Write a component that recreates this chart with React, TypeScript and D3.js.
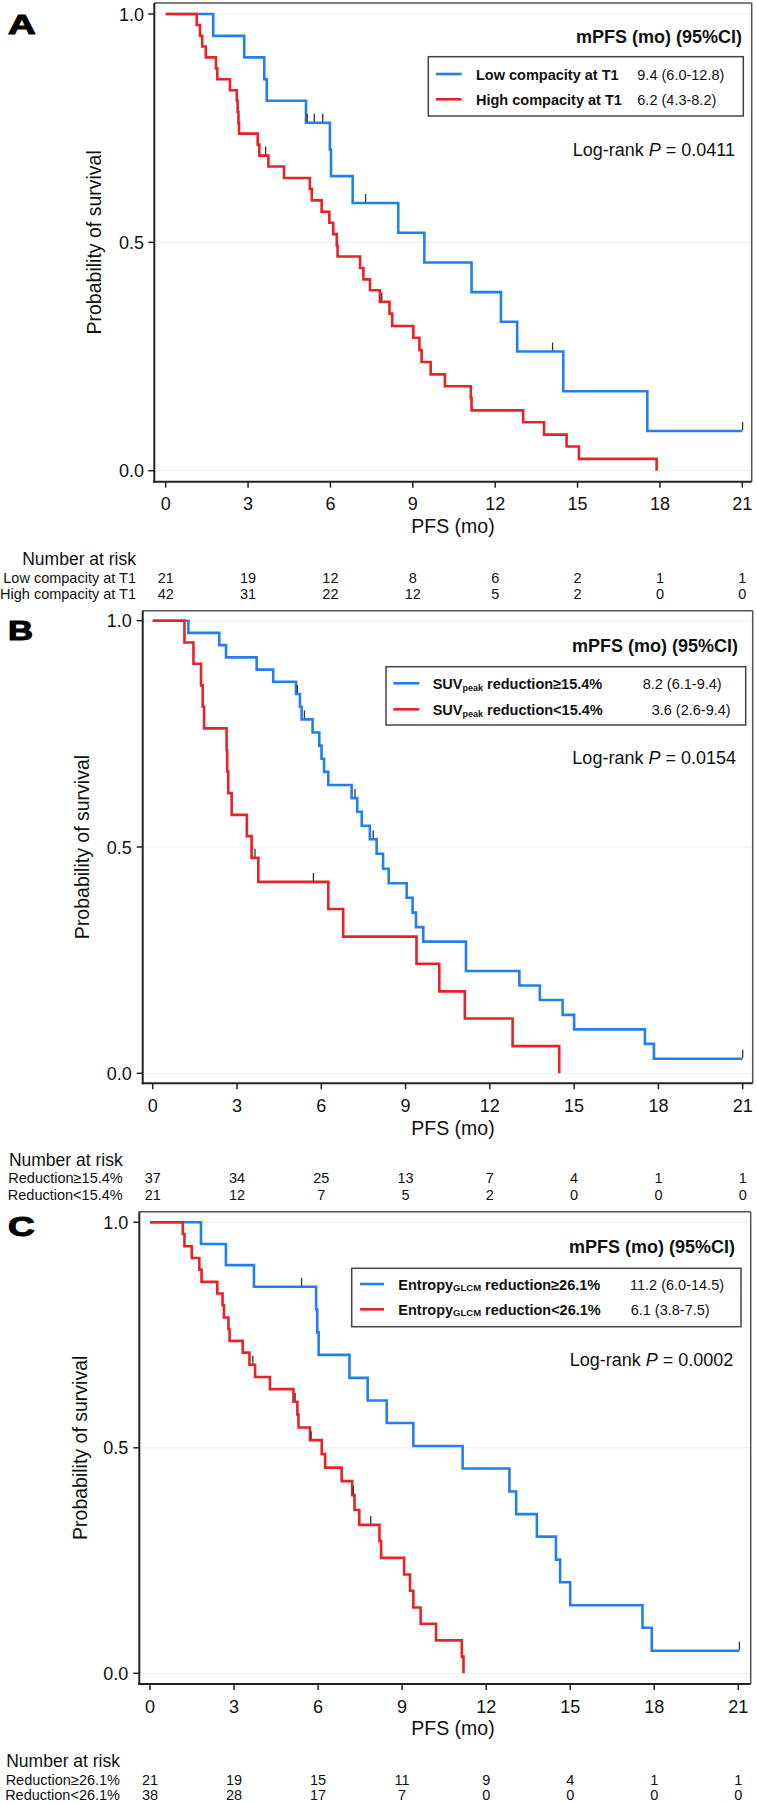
import React from "react";
import * as d3 from "d3";

const timeTicks = [0, 3, 6, 9, 12, 15, 18, 21];
const survTicks = [0, 0.5, 1];
const survTickLabels = ["0.0", "0.5", "1.0"];

// Panel A
const aLowT = [0, 1.73, 2.86, 3.59, 3.68, 5.11, 5.98, 6.02, 6.81, 8.47, 9.42, 11.14, 12.21, 12.8, 14.48, 17.54, 21.01];
const aLowS = [1, 0.952, 0.905, 0.857, 0.81, 0.762, 0.703, 0.645, 0.586, 0.521, 0.456, 0.391, 0.326, 0.261, 0.174, 0.087, 0.087];
const aLowCensor = [5.15, 5.41, 5.72, 7.28, 14.09, 21.01];
const aHighT = [0, 1.13, 1.25, 1.33, 1.46, 1.83, 1.88, 2.34, 2.59, 2.62, 2.65, 2.67, 3.35, 3.41, 3.74, 4.31, 5.25, 5.32, 5.68, 5.96, 6.1, 6.23, 6.26, 7.08, 7.2, 7.44, 7.8, 8.15, 8.25, 9.02, 9.24, 9.32, 9.65, 10.17, 11.11, 11.14, 13.02, 13.78, 14.6, 15.05, 17.88];
const aHighS = [1, 0.976, 0.952, 0.929, 0.905, 0.881, 0.857, 0.833, 0.81, 0.786, 0.762, 0.738, 0.714, 0.69, 0.666, 0.641, 0.617, 0.592, 0.567, 0.543, 0.518, 0.493, 0.469, 0.444, 0.419, 0.395, 0.37, 0.344, 0.317, 0.291, 0.264, 0.238, 0.211, 0.185, 0.159, 0.132, 0.106, 0.079, 0.053, 0.026, 0];
const aHighCensor = [3.64, 7.87];
const aRiskLabels = ["Low compacity at T1", "High compacity at T1"];
const aRiskLow = [21, 19, 12, 8, 6, 2, 1, 1];
const aRiskHigh = [42, 31, 22, 12, 5, 2, 0, 0];
const aValues = ["9.4 (6.0-12.8)", "6.2 (4.3-8.2)"];
const aP = "0.0411";

// Panel B
const bGeT = [0, 1.27, 2.37, 2.61, 3.7, 4.29, 5.1, 5.24, 5.3, 5.69, 5.93, 6.01, 6.1, 6.25, 7.08, 7.28, 7.44, 7.73, 7.97, 8.2, 8.4, 9.04, 9.25, 9.37, 9.63, 11.15, 13.05, 13.78, 14.59, 15.0, 17.52, 17.84, 21.0];
const bGeS = [1, 0.973, 0.946, 0.919, 0.892, 0.865, 0.838, 0.81, 0.782, 0.753, 0.724, 0.695, 0.666, 0.637, 0.608, 0.578, 0.547, 0.517, 0.485, 0.452, 0.42, 0.388, 0.355, 0.323, 0.291, 0.226, 0.194, 0.162, 0.129, 0.097, 0.065, 0.032, 0.032];
const bGeCensor = [5.15, 5.4, 7.2, 7.85, 21.0];
const bLtT = [0, 1.13, 1.45, 1.72, 1.78, 1.83, 2.63, 2.65, 2.69, 2.81, 3.35, 3.52, 3.76, 6.25, 6.78, 9.39, 10.2, 11.11, 12.81, 14.47];
const bLtS = [1, 0.952, 0.905, 0.857, 0.81, 0.762, 0.714, 0.667, 0.619, 0.571, 0.524, 0.476, 0.423, 0.363, 0.302, 0.242, 0.181, 0.121, 0.06, 0];
const bLtCensor = [3.64, 5.72];
const bRiskLabels = ["Reduction\u226515.4%", "Reduction<15.4%"];
const bRiskGe = [37, 34, 25, 13, 7, 4, 1, 1];
const bRiskLt = [21, 12, 7, 5, 2, 0, 0, 0];
const bValues = ["8.2 (6.1-9.4)", "3.6 (2.6-9.4)"];
const bP = "0.0154";

// Panel C
const cGeT = [0, 1.82, 2.71, 3.71, 5.93, 5.97, 6.02, 7.12, 7.77, 8.45, 9.4, 11.16, 12.83, 13.07, 13.81, 14.49, 14.64, 15.0, 17.58, 17.91, 21.04];
const cGeS = [1, 0.952, 0.905, 0.857, 0.807, 0.756, 0.706, 0.655, 0.605, 0.555, 0.504, 0.454, 0.403, 0.353, 0.303, 0.252, 0.202, 0.151, 0.101, 0.05, 0.05];
const cGeCensor = [5.41, 21.04];
const cLtT = [0, 1.17, 1.23, 1.49, 1.76, 1.84, 2.4, 2.59, 2.64, 2.8, 2.84, 3.31, 3.55, 3.75, 4.28, 5.12, 5.26, 5.3, 5.71, 6.13, 6.25, 6.84, 7.22, 7.3, 7.47, 8.19, 8.25, 9.07, 9.28, 9.4, 9.66, 10.21, 11.13, 11.19];
const cLtS = [1, 0.974, 0.947, 0.921, 0.895, 0.868, 0.842, 0.816, 0.789, 0.763, 0.737, 0.711, 0.684, 0.657, 0.63, 0.602, 0.574, 0.545, 0.517, 0.486, 0.456, 0.426, 0.395, 0.362, 0.329, 0.293, 0.256, 0.219, 0.183, 0.146, 0.11, 0.073, 0.037, 0];
const cLtCensor = [3.67, 5.18, 5.75, 7.26, 7.88];
const cRiskLabels = ["Reduction\u226526.1%", "Reduction<26.1%"];
const cRiskGe = [21, 19, 15, 11, 9, 4, 1, 1];
const cRiskLt = [38, 28, 17, 7, 0, 0, 0, 0];
const cValues = ["11.2 (6.0-14.5)", "6.1 (3.8-7.5)"];
const cP = "0.0002";

const BLUE = "#2280ee";
const RED = "#e8222a";
const FONT = "'Liberation Sans', Arial, Helvetica, sans-serif";

type Curve = { t: number[]; s: number[]; censor: number[]; color: string };

function levelAt(c: Curve, time: number) {
  let v = c.s[0];
  for (let i = 0; i < c.t.length; i++) if (c.t[i] <= time) v = c.s[i];
  return v;
}

function Panel({ cfg }: { cfg: any }) {
  const x = d3.scaleLinear().domain([0, 21]).range([cfg.x0, cfg.x21]);
  const y = d3.scaleLinear().domain([0, 1]).range([cfg.y0, cfg.y1]);
  const line = d3
    .line<[number, number]>()
    .x((d) => x(d[0]))
    .y((d) => y(d[1]))
    .curve(d3.curveStepAfter);
  const curves: Curve[] = cfg.curves;
  const lb = cfg.legend;
  return (
    <g fontFamily={FONT}>
      <text x={8} y={cfg.letterY} fontSize={28} fontWeight={900} textLength={cfg.letterW} lengthAdjust="spacingAndGlyphs" fill="#000" stroke="#000" strokeWidth={1.1}>
        {cfg.letter}
      </text>
      {survTicks.map((v) => (
        <line key={"g" + v} x1={cfg.left} x2={cfg.right} y1={y(v)} y2={y(v)} stroke="#eeeeee" strokeWidth={1} />
      ))}
      {/* frame */}
      <line x1={cfg.left} x2={cfg.right} y1={cfg.top} y2={cfg.top} stroke="#555" strokeWidth={1.5} />
      <line x1={cfg.right} x2={cfg.right} y1={cfg.top} y2={cfg.bottom} stroke="#555" strokeWidth={1.5} />
      <line x1={cfg.left} x2={cfg.left} y1={cfg.top} y2={cfg.bottom + 1} stroke="#222" strokeWidth={2} />
      <line x1={cfg.left - 1} x2={cfg.right} y1={cfg.bottom} y2={cfg.bottom} stroke="#222" strokeWidth={2} />
      {survTicks.map((v, i) => (
        <g key={"yt" + v}>
          <line x1={cfg.left - 6} x2={cfg.left} y1={y(v)} y2={y(v)} stroke="#222" strokeWidth={1.5} />
          <text x={cfg.tickLabelRight} y={y(v) + 6.5} fontSize={18} textAnchor="end" fill="#111">
            {survTickLabels[i]}
          </text>
        </g>
      ))}
      {timeTicks.map((v) => (
        <g key={"xt" + v}>
          <line x1={x(v)} x2={x(v)} y1={cfg.bottom} y2={cfg.bottom + 6} stroke="#222" strokeWidth={1.5} />
          <text x={x(v)} y={cfg.xTickLabelY} fontSize={18} textAnchor="middle" fill="#111">
            {v}
          </text>
        </g>
      ))}
      <text x={453} y={cfg.xTitleY} fontSize={19.5} textAnchor="middle" fill="#111">
        PFS (mo)
      </text>
      <text
        transform={`translate(${cfg.ylabelX},${(cfg.y0 + cfg.y1) / 2}) rotate(-90)`}
        fontSize={19.5}
        textAnchor="middle"
        dy="0.35em"
        fill="#111"
      >
        Probability of survival
      </text>
      {curves.map((c, i) => {
        const pts: [number, number][] = c.t.map((t, j) => [t, c.s[j]]);
        return <path key={"c" + i} d={line(pts) || ""} fill="none" stroke={c.color} strokeWidth={2.6} strokeLinejoin="miter" />;
      })}
      {curves.map((c, i) =>
        c.censor.map((t, j) => {
          const yy = y(levelAt(c, t));
          return <line key={"cs" + i + "_" + j} x1={x(t)} x2={x(t)} y1={yy - 1} y2={yy - 9} stroke="#333" strokeWidth={1.3} />;
        })
      )}
      {/* legend */}
      <text x={cfg.headerRight} y={cfg.headerY} fontSize={18} fontWeight="bold" textAnchor="end" fill="#111">
        mPFS (mo) (95%CI)
      </text>
      <rect x={lb.x} y={lb.y} width={lb.w} height={lb.h} fill="#fff" stroke="#444" strokeWidth={1.5} />
      {curves.map((c, i) => (
        <g key={"lg" + i}>
          <line x1={lb.lx1} x2={lb.lx2} y1={lb.rowY[i]} y2={lb.rowY[i]} stroke={c.color} strokeWidth={2.6} />
          <text x={lb.labelX} y={lb.rowY[i] + 6} fontSize={14.5} fontWeight="bold" fill="#111">
            {cfg.legendLabels[i]}
          </text>
          <text x={lb.valueX[i]} y={lb.rowY[i] + 6} fontSize={14.5} fill="#111">
            {cfg.values[i]}
          </text>
        </g>
      ))}
      <text x={cfg.pRight} y={cfg.pY} fontSize={18} textAnchor="end" fill="#111">
        Log-rank <tspan fontStyle="italic">P</tspan> = {cfg.p}
      </text>
      {/* number at risk */}
      <text x={cfg.riskRight} y={cfg.riskHeaderY} fontSize={17.5} textAnchor="end" fill="#111">
        Number at risk
      </text>
      {cfg.riskLabels.map((lab: string, i: number) => (
        <g key={"r" + i}>
          <text x={cfg.riskRight} y={cfg.riskRowY[i]} fontSize={14.5} textAnchor="end" fill="#111">
            {lab}
          </text>
          {cfg.riskRows[i].map((n: number, k: number) => (
            <text key={"n" + k} x={x(timeTicks[k])} y={cfg.riskRowY[i]} fontSize={14.5} textAnchor="middle" fill="#111">
              {n}
            </text>
          ))}
        </g>
      ))}
    </g>
  );
}

const panelA = {
  letter: "A", letterY: 34, letterW: 27.7,
  left: 154.3, top: 3, right: 751.7, bottom: 481.7,
  x0: 165.7, x21: 742.3, y0: 470.7, y1: 14,
  ylabelX: 94, tickLabelRight: 144, xTickLabelY: 510, xTitleY: 533,
  headerRight: 742, headerY: 42.5,
  legend: { x: 428.3, y: 56.7, w: 315, h: 59.3, lx1: 436, lx2: 461.7, rowY: [74, 99.3], labelX: 476, valueX: [637.3, 637.3] },
  pRight: 735, pY: 156,
  riskRight: 136, riskHeaderY: 565, riskRowY: [582.7, 599],
  curves: [
    { t: aLowT, s: aLowS, censor: aLowCensor, color: BLUE },
    { t: aHighT, s: aHighS, censor: aHighCensor, color: RED },
  ],
  legendLabels: ["Low compacity at T1", "High compacity at T1"],
  values: aValues, p: aP, riskLabels: aRiskLabels, riskRows: [aRiskLow, aRiskHigh],
};

const panelB = {
  letter: "B", letterY: 640, letterW: 25,
  left: 142.7, top: 610.7, right: 752.7, bottom: 1083.3,
  x0: 152.7, x21: 742.7, y0: 1073.3, y1: 620.7,
  ylabelX: 81.7, tickLabelRight: 131.7, xTickLabelY: 1111.5, xTitleY: 1135,
  headerRight: 738, headerY: 651.5,
  legend: { x: 386, y: 666.7, w: 359.7, h: 58.3, lx1: 393.3, lx2: 419.3, rowY: [683.3, 709.3], labelX: 432.7, valueX: [642.7, 651.7] },
  pRight: 736, pY: 764,
  riskRight: 122.7, riskHeaderY: 1166, riskRowY: [1183.3, 1199.5],
  curves: [
    { t: bGeT, s: bGeS, censor: bGeCensor, color: BLUE },
    { t: bLtT, s: bLtS, censor: bLtCensor, color: RED },
  ],
  legendLabels: [
    <>SUV<tspan fontSize={9} dy={1.5}>peak</tspan><tspan dy={-1.5}> reduction{"\u2265"}15.4%</tspan></>,
    <>SUV<tspan fontSize={9} dy={1.5}>peak</tspan><tspan dy={-1.5}> reduction&lt;15.4%</tspan></>,
  ],
  values: bValues, p: bP, riskLabels: bRiskLabels, riskRows: [bRiskGe, bRiskLt],
};

const panelC = {
  letter: "C", letterY: 1236, letterW: 26.7,
  left: 139.3, top: 1211.7, right: 750.7, bottom: 1684,
  x0: 150, x21: 738.3, y0: 1673.3, y1: 1222.3,
  ylabelX: 80, tickLabelRight: 128.3, xTickLabelY: 1713, xTitleY: 1735,
  headerRight: 735, headerY: 1253,
  legend: { x: 351.7, y: 1268.3, w: 389.3, h: 58.4, lx1: 360, lx2: 384, rowY: [1284, 1309.3], labelX: 398.3, valueX: [630, 630.7] },
  pRight: 733.3, pY: 1366,
  riskRight: 120, riskHeaderY: 1766.5, riskRowY: [1785, 1800],
  curves: [
    { t: cGeT, s: cGeS, censor: cGeCensor, color: BLUE },
    { t: cLtT, s: cLtS, censor: cLtCensor, color: RED },
  ],
  legendLabels: [
    <>Entropy<tspan fontSize={9.5} dy={0.5}>GLCM</tspan><tspan dy={-0.5}> reduction{"\u2265"}26.1%</tspan></>,
    <>Entropy<tspan fontSize={9.5} dy={0.5}>GLCM</tspan><tspan dy={-0.5}> reduction&lt;26.1%</tspan></>,
  ],
  values: cValues, p: cP, riskLabels: cRiskLabels, riskRows: [cRiskGe, cRiskLt],
};

export default function App() {
  return (
    <svg
      width={757}
      height={1803}
      viewBox="0 0 757 1803"
      style={{ position: "absolute", left: 0, top: 0, background: "#fff" }}
    >
      <rect x={0} y={0} width={757} height={1803} fill="#fff" />
      <Panel cfg={panelA} />
      <Panel cfg={panelB} />
      <Panel cfg={panelC} />
    </svg>
  );
}
